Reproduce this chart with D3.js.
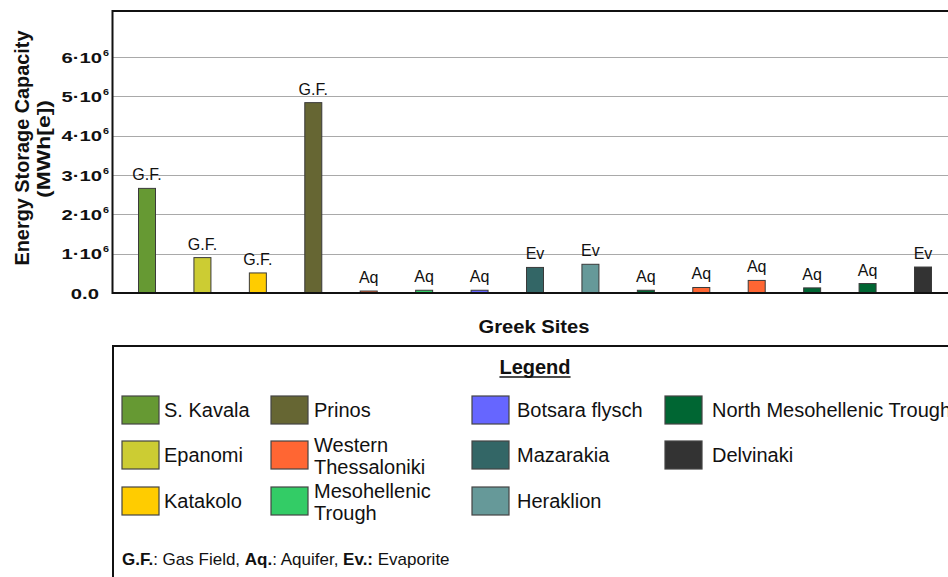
<!DOCTYPE html>
<html>
<head>
<meta charset="utf-8">
<script src="https://cdn.jsdelivr.net/npm/d3@7/dist/d3.min.js"></script>
<style>
  html, body { margin: 0; padding: 0; background: #fff; }
  svg { display: block; font-family: "Liberation Sans", Arial, Helvetica, sans-serif; }
</style>
</head>
<body>
<svg id="chart" width="948" height="577"></svg>
<script>
// Sites plotted left to right, with storage type and capacity (MWh[e])
const barSites = [
  "S. Kavala", "Epanomi", "Katakolo", "Prinos",
  "Western Thessaloniki", "Mesohellenic Trough", "Botsara flysch",
  "Mazarakia", "Heraklion",
  "North Mesohellenic Trough", "Western Thessaloniki", "Western Thessaloniki",
  "North Mesohellenic Trough", "North Mesohellenic Trough", "Delvinaki"
];
const barTypes = [
  "G.F.", "G.F.", "G.F.", "G.F.",
  "Aq", "Aq", "Aq",
  "Ev", "Ev",
  "Aq", "Aq", "Aq", "Aq", "Aq", "Ev"
];
const barValues = [
  2.66e6, 0.90e6, 0.51e6, 4.84e6,
  0.05e6, 0.07e6, 0.07e6,
  0.65e6, 0.73e6,
  0.07e6, 0.14e6, 0.32e6, 0.13e6, 0.24e6, 0.66e6
];

// Legend entries, column by column
const legendColumns = [
  ["S. Kavala", "Epanomi", "Katakolo"],
  ["Prinos", "Western Thessaloniki", "Mesohellenic Trough"],
  ["Botsara flysch", "Mazarakia", "Heraklion"],
  ["North Mesohellenic Trough", "Delvinaki"]
];
const legendLabelLines = {
  "Western Thessaloniki": ["Western", "Thessaloniki"],
  "Mesohellenic Trough": ["Mesohellenic", "Trough"]
};
const siteColors = {
  "S. Kavala": "#669933",
  "Epanomi": "#cccc33",
  "Katakolo": "#ffcc00",
  "Prinos": "#666633",
  "Western Thessaloniki": "#ff6633",
  "Mesohellenic Trough": "#33cc66",
  "Botsara flysch": "#6666ff",
  "Mazarakia": "#336666",
  "Heraklion": "#669999",
  "North Mesohellenic Trough": "#006633",
  "Delvinaki": "#333333"
};

// Y axis ticks: value, mantissa, exponent
const yTickValues = [0, 1e6, 2e6, 3e6, 4e6, 5e6, 6e6];
const yTickMantissa = ["0.0", "1·10", "2·10", "3·10", "4·10", "5·10", "6·10"];
const yTickExponent = ["", "6", "6", "6", "6", "6", "6"];

const svg = d3.select("#chart");

const frame = { left: 112.5, top: 11, right: 960, bottom: 293 };

const x = d3.scalePoint()
  .domain(d3.range(barValues.length))
  .range([147, 923]);
const barWidth = 17;

const y = d3.scaleLinear()
  .domain([0, 7.17e6])
  .range([frame.bottom, frame.top]);

// Horizontal grid lines
svg.append("g")
  .selectAll("line")
  .data(yTickValues.filter(v => v > 0))
  .join("line")
  .attr("x1", frame.left)
  .attr("x2", frame.right)
  .attr("y1", d => Math.round(y(d)) + 0.5)
  .attr("y2", d => Math.round(y(d)) + 0.5)
  .attr("stroke", "#a9a9a9")
  .attr("stroke-width", 1);

// Bars
svg.append("g")
  .selectAll("rect")
  .data(barValues)
  .join("rect")
  .attr("x", (d, i) => x(i) - barWidth / 2)
  .attr("y", d => y(d))
  .attr("width", barWidth)
  .attr("height", d => frame.bottom - y(d))
  .attr("fill", (d, i) => siteColors[barSites[i]])
  .attr("stroke", "#3a3a3a")
  .attr("stroke-width", 1);

// Storage type above each bar
svg.append("g")
  .selectAll("text")
  .data(barValues)
  .join("text")
  .attr("x", (d, i) => x(i))
  .attr("y", d => y(d) - 8)
  .attr("text-anchor", "middle")
  .attr("font-size", 16)
  .attr("fill", "#111")
  .text((d, i) => barTypes[i]);

// Plot frame
svg.append("path")
  .attr("d", `M${frame.right},${frame.top}H${frame.left}V${frame.bottom}H${frame.right}`)
  .attr("fill", "none")
  .attr("stroke", "#111")
  .attr("stroke-width", 2);

// Y tick labels (wide bold digits with a superscript exponent)
const yLabels = svg.append("g").attr("font-weight", "bold").attr("fill", "#111");
yTickValues.forEach((v, i) => {
  const yy = y(v);
  const endX = yTickExponent[i] ? 102 : 99;
  yLabels.append("text")
    .attr("transform", `translate(${endX},${yy + 5.5}) scale(1.35,1)`)
    .attr("text-anchor", "end")
    .attr("font-size", 15)
    .text(yTickMantissa[i]);
  if (yTickExponent[i]) {
    yLabels.append("text")
      .attr("transform", `translate(${endX + 1},${yy - 1.5}) scale(1.2,1)`)
      .attr("font-size", 9)
      .text(yTickExponent[i]);
  }
});

// Axis titles
const yTitle = svg.append("g")
  .attr("font-weight", "bold")
  .attr("fill", "#111")
  .attr("text-anchor", "middle");
yTitle.append("text")
  .attr("transform", "translate(29,148) rotate(-90)")
  .attr("font-size", 20)
  .attr("textLength", 235)
  .attr("lengthAdjust", "spacingAndGlyphs")
  .text("Energy Storage Capacity");
yTitle.append("text")
  .attr("transform", "translate(49.5,149) rotate(-90)")
  .attr("font-size", 19)
  .attr("textLength", 98)
  .attr("lengthAdjust", "spacingAndGlyphs")
  .text("(MWh[e])");

svg.append("text")
  .attr("x", 534)
  .attr("y", 333)
  .attr("text-anchor", "middle")
  .attr("font-weight", "bold")
  .attr("font-size", 19)
  .attr("textLength", 111)
  .attr("lengthAdjust", "spacingAndGlyphs")
  .attr("fill", "#111")
  .text("Greek Sites");

// Legend box
svg.append("rect")
  .attr("x", 113)
  .attr("y", 346)
  .attr("width", 900)
  .attr("height", 300)
  .attr("fill", "none")
  .attr("stroke", "#111")
  .attr("stroke-width", 2);

const legendTitle = svg.append("text")
  .attr("x", 535)
  .attr("y", 374)
  .attr("text-anchor", "middle")
  .attr("font-weight", "bold")
  .attr("font-size", 20)
  .attr("fill", "#111")
  .text("Legend");
const ltw = legendTitle.node().getComputedTextLength();
svg.append("line")
  .attr("x1", 535 - ltw / 2)
  .attr("x2", 535 + ltw / 2)
  .attr("y1", 377)
  .attr("y2", 377)
  .attr("stroke", "#111")
  .attr("stroke-width", 1.5);

const colSwatchX = [122, 271, 472, 665];
const colTextX = [164, 314, 517, 712];
const rowY = [396, 441, 487];
const swatchW = 37, swatchH = 28;

const legend = svg.append("g");
legendColumns.forEach((col, ci) => {
  col.forEach((site, ri) => {
    const sy = rowY[ri];
    legend.append("rect")
      .attr("x", colSwatchX[ci])
      .attr("y", sy)
      .attr("width", swatchW)
      .attr("height", swatchH)
      .attr("fill", siteColors[site])
      .attr("stroke", "#444")
      .attr("stroke-width", 1.2);
    const lines = legendLabelLines[site] || [site];
    const t = legend.append("text")
      .attr("font-size", 20)
      .attr("fill", "#111");
    if (lines.length === 1) {
      t.append("tspan").attr("x", colTextX[ci]).attr("y", sy + 21).text(lines[0]);
    } else {
      t.append("tspan").attr("x", colTextX[ci]).attr("y", sy + 11).text(lines[0]);
      t.append("tspan").attr("x", colTextX[ci]).attr("y", sy + 33).text(lines[1]);
    }
  });
});

// Storage type abbreviations
const note = svg.append("text")
  .attr("x", 122)
  .attr("y", 565)
  .attr("font-size", 17)
  .attr("fill", "#111");
[["G.F.", true], [": Gas Field, ", false], ["Aq.", true], [": Aquifer, ", false],
 ["Ev.:", true], [" Evaporite", false]].forEach(([s, b]) => {
  note.append("tspan").attr("font-weight", b ? "bold" : "normal").text(s);
});
</script>
</body>
</html>
